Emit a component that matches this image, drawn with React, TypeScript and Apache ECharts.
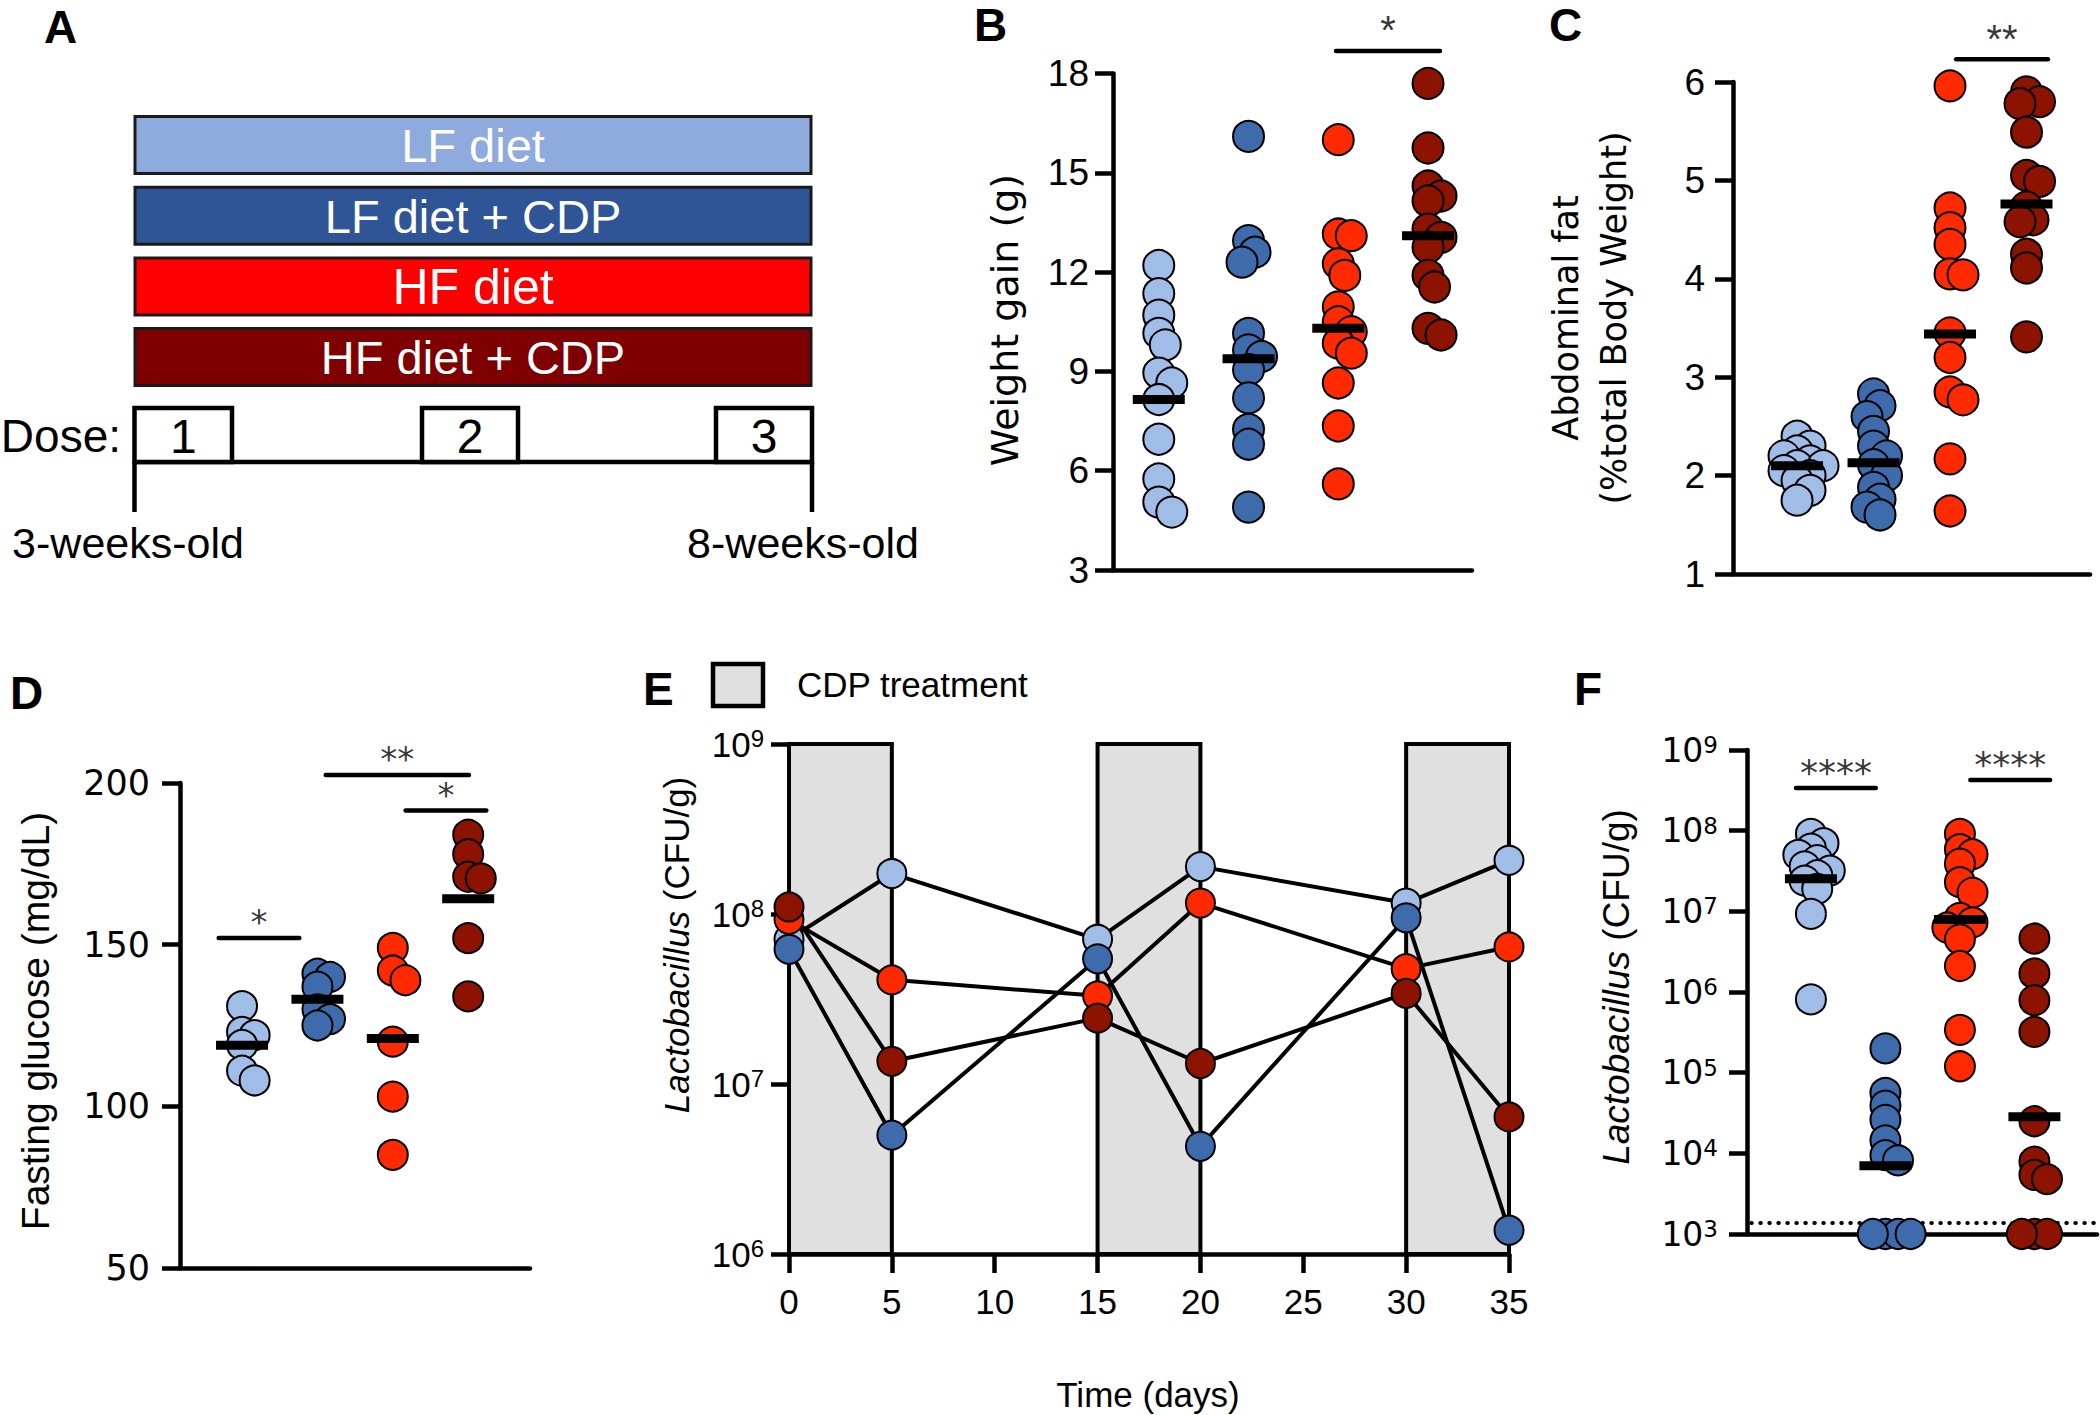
import React, { useEffect, useRef } from "react";
import * as echarts from "echarts";

// ---------------- data ----------------
const groupLabels = ["LF diet", "LF diet + CDP", "HF diet", "HF diet + CDP"];
const doseLabels = ["1", "2", "3"];
const ageLabels = ["3-weeks-old", "8-weeks-old"];

// B: weight gain (g)
const weightGain = [
  [12.2, 11.35, 10.7, 10.15, 9.8, 8.95, 8.65, 8.15, 6.95, 5.75, 5.05, 4.75],
  [16.1, 12.95, 12.6, 12.3, 10.15, 9.65, 9.45, 9.05, 8.2, 7.25, 6.8, 4.9],
  [16.0, 13.15, 13.1, 12.25, 11.9, 10.95, 10.5, 10.2, 9.85, 9.55, 8.65, 7.35, 5.6],
  [17.7, 15.75, 14.6, 14.3, 14.15, 13.3, 13.05, 12.75, 11.9, 11.55, 10.3, 10.1],
];
const weightGainMedian = [8.15, 9.38, 10.3, 13.1];
const weightGainSig = [{ from: 2.975, to: 4.133, y: 18.68, label: "*" }];

// C: abdominal fat (% total body weight)
const abdominalFat = [
  [2.4, 2.3, 2.25, 2.2, 2.15, 2.1, 2.1, 2.05, 2.0, 1.95, 1.85, 1.75],
  [2.83, 2.71, 2.6, 2.45, 2.3, 2.2, 2.11, 2.0, 1.88, 1.76, 1.68, 1.6],
  [5.96, 4.72, 4.52, 4.35, 4.05, 4.04, 3.45, 3.2, 2.85, 2.77, 2.17, 1.64],
  [5.9, 5.8, 5.78, 5.49, 5.05, 4.99, 4.73, 4.6, 4.58, 4.25, 4.11, 3.41],
];
const abdominalFatMedian = [2.1, 2.13, 3.44, 4.76];
const abdominalFatSig = [{ from: 3.08, to: 4.28, y: 6.23, label: "**" }];

// D: fasting glucose (mg/dL)
const glucose = [
  [131, 123, 122, 119, 111, 108],
  [141, 140, 137, 130, 127, 125],
  [149, 142, 139, 120, 103, 85],
  [184, 178, 171, 170.5, 152, 134],
];
const glucoseMedian = [118.9, 133.1, 121, 164.2];
const glucoseSig = [
  { from: 0.69, to: 1.76, y: 152.1, label: "*" },
  { from: 2.11, to: 4.01, y: 202.5, label: "**" },
  { from: 3.17, to: 4.24, y: 191.5, label: "*" },
];

// E: Lactobacillus over time
const days = [0, 5, 15, 20, 30, 35];
const lactoTime = [
  [7.1e7, 1.73e8, 7.1e7, 1.9e8, 1.16e8, 2.07e8],
  [6.2e7, 5.0e6, 5.45e7, 4.3e6, 9.5e7, 1.38e6],
  [9.3e7, 4.1e7, 3.3e7, 1.16e8, 4.77e7, 6.4e7],
  [1.1e8, 1.36e7, 2.44e7, 1.32e7, 3.41e7, 6.4e6],
];
const lactoTimeDrawOrder = [0, 2, 1, 3];
const treatmentPeriods = [
  [0, 5],
  [15, 20],
  [30, 35],
];
const legendLabel = "CDP treatment";

// F: Lactobacillus at end point
const lactoFinal = [
  [9.1e7, 7.0e7, 6.0e7, 5.0e7, 4.3e7, 3.6e7, 3.2e7, 2.8e7, 2.4e7, 1.9e7, 9.3e6, 8.1e5],
  [2.0e5, 5.6e4, 3.9e4, 2.6e4, 1.45e4, 9.5e3, 8.2e3, 1e3, 1e3, 1e3, 1e3],
  [9.1e7, 5.9e7, 5.1e7, 3.9e7, 2.3e7, 1.7e7, 8.3e6, 7.3e6, 6.3e6, 4.5e6, 2.1e6, 3.4e5, 1.2e5],
  [4.6e6, 1.7e6, 7.9e5, 3.2e5, 2.5e4, 7.9e3, 5.4e3, 4.8e3, 1e3, 1e3, 1e3],
];
const lactoFinalMedian = [2.54e7, 7.0e3, 7.9e6, 2.84e4];
const lactoFinalSig = [
  { from: 0.8, to: 1.87, y: 3.38e8, label: "****" },
  { from: 3.14, to: 4.21, y: 4.25e8, label: "****" },
];
const detectionLimit = 1.37e3;

// ---------------- styles ----------------
const pointColors = ["#9fbde6", "#3d6bab", "#ff2a00", "#8c1300"];
const barColors = ["#8faadc", "#2f5597", "#ff0000", "#7f0000"];
const SANS = '"Liberation Sans", Arial, sans-serif';
const WIDE = '"DejaVu Sans", Verdana, sans-serif';
const AXW = 4.5;

type Sig = { from: number; to: number; y: number; label: string };
type PanelCfg = {
  left: number;
  top: number;
  width: number;
  height: number;
  xMin: number;
  xMax: number;
  yMin: number;
  yMax: number;
  interval?: number;
  log?: boolean;
  tickFont: string;
  tickSize: number;
  supSize?: number;
  labelMargin: number;
  symbol: number;
  starFont: string;
  starSize: number;
  starDist: number;
};

function swarmOffsets(vals: number[], pxPerY: number, pxPerX: number, diam: number): number[] {
  const order = vals.map((_, i) => i).sort((a, b) => vals[b] - vals[a]);
  const placed: { x: number; y: number }[] = [];
  const out = new Array(vals.length).fill(0);
  const minDist = diam * 0.42;
  const step = diam * 0.21;
  for (const i of order) {
    const y = vals[i] * pxPerY;
    let chosen = 0;
    for (let k = 0; k < 80; k++) {
      const c = k === 0 ? 0 : (k % 2 === 1 ? 1 : -1) * Math.ceil(k / 2) * step;
      if (placed.every((p) => Math.hypot(p.x - c, p.y - y) >= minDist)) {
        chosen = c;
        break;
      }
    }
    placed.push({ x: chosen, y });
    out[i] = chosen / pxPerX;
  }
  return out;
}

function logLabel(cfg: PanelCfg) {
  return {
    formatter: (v: number) => `{b|10}{s|${Math.round(Math.log10(v))}}`,
    margin: cfg.labelMargin,
    rich: {
      b: { fontSize: cfg.tickSize, fontFamily: cfg.tickFont, color: "#000" },
      s: { fontSize: cfg.supSize, fontFamily: cfg.tickFont, color: "#000", verticalAlign: "top" },
    },
  };
}

function dotPanel(
  idx: number,
  cfg: PanelCfg,
  groups: number[][],
  medians: number[],
  sigs: Sig[],
  extraSeries: any[] = []
) {
  const grid = { left: cfg.left, top: cfg.top, width: cfg.width, height: cfg.height, containLabel: false };
  const xAxis = {
    gridIndex: idx,
    type: "value",
    min: cfg.xMin,
    max: cfg.xMax,
    axisLine: { show: true, onZero: false, lineStyle: { color: "#000", width: AXW } },
    axisTick: { show: false },
    axisLabel: { show: false },
    splitLine: { show: false },
  };
  const yAxis: any = {
    gridIndex: idx,
    type: cfg.log ? "log" : "value",
    min: cfg.yMin,
    max: cfg.yMax,
    axisLine: { show: true, onZero: false, lineStyle: { color: "#000", width: AXW } },
    axisTick: { show: true, length: 18, lineStyle: { color: "#000", width: AXW } },
    splitLine: { show: false },
    axisLabel: cfg.log
      ? logLabel(cfg)
      : { fontSize: cfg.tickSize, fontFamily: cfg.tickFont, color: "#000", margin: cfg.labelMargin },
  };
  if (cfg.log) {
    yAxis.logBase = 10;
    yAxis.splitNumber = 6;
  } else {
    yAxis.interval = cfg.interval;
  }
  const t = (v: number) => (cfg.log ? Math.log10(v) : v);
  const pxPerY = cfg.height / (t(cfg.yMax) - t(cfg.yMin));
  const pxPerX = cfg.width / (cfg.xMax - cfg.xMin);
  const series: any[] = [...extraSeries];
  groups.forEach((vals, g) => {
    const offs = swarmOffsets(vals.map(t), pxPerY, pxPerX, cfg.symbol);
    series.push({
      type: "scatter",
      xAxisIndex: idx,
      yAxisIndex: idx,
      clip: false,
      symbol: "circle",
      symbolSize: cfg.symbol,
      z: 3,
      itemStyle: { color: pointColors[g], borderColor: "#000", borderWidth: 2, opacity: 1 },
      data: vals.map((v, i) => [g + 1 + offs[i], v]),
    });
  });
  series.push({
    type: "scatter",
    xAxisIndex: idx,
    yAxisIndex: idx,
    clip: false,
    symbol: "rect",
    symbolSize: [52, 9],
    z: 5,
    itemStyle: { color: "#000", opacity: 1 },
    data: medians.map((m, i) => [i + 1, m]),
  });
  sigs.forEach((s) => {
    series.push({
      type: "line",
      xAxisIndex: idx,
      yAxisIndex: idx,
      clip: false,
      symbol: "none",
      z: 5,
      lineStyle: { color: "#000", width: AXW, cap: "round" },
      data: [
        [s.from, s.y],
        [s.to, s.y],
      ],
    });
    series.push({
      type: "scatter",
      xAxisIndex: idx,
      yAxisIndex: idx,
      clip: false,
      symbolSize: 1,
      z: 5,
      itemStyle: { color: "rgba(0,0,0,0)" },
      label: {
        show: true,
        position: "top",
        distance: cfg.starDist,
        formatter: s.label,
        fontSize: cfg.starSize,
        fontFamily: cfg.starFont,
        color: "#000",
      },
      data: [[(s.from + s.to) / 2, s.y]],
    });
  });
  return { grid, xAxis, yAxis, series };
}

function buildOption() {
  const grids: any[] = [];
  const xAxes: any[] = [];
  const yAxes: any[] = [];
  const series: any[] = [];
  const add = (p: any) => {
    grids.push(p.grid);
    xAxes.push(p.xAxis);
    yAxes.push(p.yAxis);
    series.push(...p.series);
  };

  // B
  add(
    dotPanel(
      0,
      {
        left: 1113, top: 73.5, width: 359, height: 496.5,
        xMin: 0.49, xMax: 4.49, yMin: 3, yMax: 18, interval: 3,
        tickFont: SANS, tickSize: 37, labelMargin: 24, symbol: 31,
        starFont: SANS, starSize: 40, starDist: 0,
      },
      weightGain, weightGainMedian, weightGainSig
    )
  );
  // C
  add(
    dotPanel(
      1,
      {
        left: 1733, top: 82, width: 357, height: 492,
        xMin: 0.163, xMax: 4.83, yMin: 1, yMax: 6, interval: 1,
        tickFont: SANS, tickSize: 37, labelMargin: 28, symbol: 31,
        starFont: SANS, starSize: 40, starDist: 0,
      },
      abdominalFat, abdominalFatMedian, abdominalFatSig
    )
  );
  // D
  add(
    dotPanel(
      2,
      {
        left: 180, top: 783, width: 350, height: 485,
        xMin: 0.177, xMax: 4.82, yMin: 50, yMax: 200, interval: 50,
        tickFont: WIDE, tickSize: 35, labelMargin: 30, symbol: 30,
        starFont: WIDE, starSize: 34, starDist: -2,
      },
      glucose, glucoseMedian, glucoseSig
    )
  );
  // F
  const lodSeries = {
    type: "line",
    xAxisIndex: 3,
    yAxisIndex: 3,
    clip: false,
    symbol: "none",
    z: 2,
    lineStyle: { color: "#000", width: 4, type: [0.5, 8.5], cap: "round" },
    data: [
      [0.2, detectionLimit],
      [4.84, detectionLimit],
    ],
  };
  add(
    dotPanel(
      3,
      {
        left: 1747, top: 750, width: 350, height: 484,
        xMin: 0.142, xMax: 4.84, yMin: 1e3, yMax: 1e9, log: true,
        tickFont: WIDE, tickSize: 33, supSize: 23, labelMargin: 29, symbol: 30,
        starFont: WIDE, starSize: 36, starDist: -3,
      },
      lactoFinal, lactoFinalMedian, lactoFinalSig, [lodSeries]
    )
  );

  // E (time course)
  const eCfg: PanelCfg = {
    left: 789, top: 744, width: 720, height: 510,
    xMin: 0, xMax: 35, yMin: 1e6, yMax: 1e9, log: true,
    tickFont: SANS, tickSize: 35, supSize: 24, labelMargin: 25, symbol: 28,
    starFont: SANS, starSize: 30, starDist: 0,
  };
  grids.push({ left: eCfg.left, top: eCfg.top, width: eCfg.width, height: eCfg.height, containLabel: false });
  xAxes.push({
    gridIndex: 4,
    type: "value",
    min: 0,
    max: 35,
    interval: 5,
    axisLine: { show: true, onZero: false, lineStyle: { color: "#000", width: AXW } },
    axisTick: { show: true, length: 19, lineStyle: { color: "#000", width: AXW } },
    axisLabel: { fontSize: 35, fontFamily: SANS, color: "#000", margin: 30 },
    splitLine: { show: false },
  });
  yAxes.push({
    gridIndex: 4,
    type: "log",
    logBase: 10,
    min: 1e6,
    max: 1e9,
    splitNumber: 3,
    axisLine: { show: true, onZero: false, lineStyle: { color: "#000", width: AXW } },
    axisTick: { show: true, length: 18, lineStyle: { color: "#000", width: AXW } },
    splitLine: { show: false },
    axisLabel: logLabel(eCfg),
  });
  lactoTimeDrawOrder.forEach((g, k) => {
    const s: any = {
      type: "line",
      xAxisIndex: 4,
      yAxisIndex: 4,
      symbol: "circle",
      symbolSize: 29,
      z: 3,
      lineStyle: { color: "#000", width: 4 },
      itemStyle: { color: pointColors[g], borderColor: "#000", borderWidth: 2 },
      data: days.map((d, i) => [d, lactoTime[g][i]]),
    };
    if (k === 0) {
      s.markArea = {
        silent: true,
        itemStyle: { color: "#e0e0e0", borderColor: "#000", borderWidth: 4 },
        data: treatmentPeriods.map(([a, b]) => [{ xAxis: a }, { xAxis: b }]),
      };
    }
    series.push(s);
  });

  // ---------- graphics ----------
  const g: any[] = [];
  const letter = (t: string, x: number, y: number) =>
    g.push({
      type: "text",
      x,
      y,
      style: { text: t, fontSize: 46, fontWeight: "bold", fontFamily: SANS, fill: "#000", align: "left", verticalAlign: "middle" },
    });
  letter("A", 44, 27);
  letter("B", 974, 25);
  letter("C", 1549, 25);
  letter("D", 10, 693);
  letter("E", 643, 689);
  letter("F", 1574, 689);

  // Panel A
  const aLeft = 135;
  const aRight = 811;
  groupLabels.forEach((lab, i) => {
    const top = 116.5 + i * 70.7;
    g.push({
      type: "rect",
      shape: { x: aLeft, y: top, width: aRight - aLeft, height: 57 },
      style: { fill: barColors[i], stroke: "#1a1a1a", lineWidth: 3 },
    });
    g.push({
      type: "text",
      x: (aLeft + aRight) / 2,
      y: top + 29,
      style: {
        text: lab,
        fontSize: i === 2 ? 50 : 47,
        fontFamily: SANS,
        fill: "#fff",
        align: "center",
        verticalAlign: "middle",
      },
    });
  });
  const boxes = [
    [134.5, 232],
    [422, 518],
    [716, 812],
  ];
  g.push({
    type: "line",
    shape: { x1: 134.5, y1: 462, x2: 812, y2: 462 },
    style: { stroke: "#000", lineWidth: 4.5 },
  });
  g.push({ type: "line", shape: { x1: 134.5, y1: 462, x2: 134.5, y2: 512 }, style: { stroke: "#000", lineWidth: 4.5 } });
  g.push({ type: "line", shape: { x1: 812, y1: 462, x2: 812, y2: 512 }, style: { stroke: "#000", lineWidth: 4.5 } });
  boxes.forEach(([x1, x2], i) => {
    g.push({
      type: "rect",
      shape: { x: x1, y: 408, width: x2 - x1, height: 54 },
      style: { fill: "#fff", stroke: "#000", lineWidth: 4.5 },
    });
    g.push({
      type: "text",
      x: (x1 + x2) / 2,
      y: 436,
      style: { text: doseLabels[i], fontSize: 48, fontFamily: SANS, fill: "#000", align: "center", verticalAlign: "middle" },
    });
  });
  g.push({
    type: "text",
    x: 121,
    y: 436,
    style: { text: "Dose:", fontSize: 46, fontFamily: SANS, fill: "#000", align: "right", verticalAlign: "middle" },
  });
  g.push({
    type: "text",
    x: 128,
    y: 543,
    style: { text: ageLabels[0], fontSize: 43, fontFamily: SANS, fill: "#000", align: "center", verticalAlign: "middle" },
  });
  g.push({
    type: "text",
    x: 803,
    y: 543,
    style: { text: ageLabels[1], fontSize: 43, fontFamily: SANS, fill: "#000", align: "center", verticalAlign: "middle" },
  });

  // axis titles
  const vtitle = (text: string, x: number, y: number, size: number, font: string, rich?: any) =>
    g.push({
      type: "text",
      x,
      y,
      rotation: Math.PI / 2,
      style: { text, fontSize: size, fontFamily: font, fill: "#000", align: "center", verticalAlign: "middle", rich },
    });
  vtitle("Weight gain (g)", 1005, 320, 38, WIDE);
  vtitle("Abdominal fat", 1566, 318, 35, WIDE);
  vtitle("(%total Body Weight)", 1614, 318, 35, WIDE);
  vtitle("Fasting glucose (mg/dL)", 35, 1021, 39, SANS);
  const lactoRich = (size: number) => ({
    i: { fontStyle: "italic", fontSize: size, fontFamily: SANS, fill: "#000" },
    n: { fontSize: size, fontFamily: SANS, fill: "#000" },
  });
  vtitle("{i|Lactobacillus}{n| (CFU/g)}", 676, 945, 35, SANS, lactoRich(35));
  vtitle("{i|Lactobacillus}{n| (CFU/g)}", 1616, 987, 37, SANS, lactoRich(37));
  g.push({
    type: "text",
    x: 1148,
    y: 1394,
    style: { text: "Time (days)", fontSize: 35, fontFamily: SANS, fill: "#000", align: "center", verticalAlign: "middle" },
  });
  // legend E
  g.push({
    type: "rect",
    shape: { x: 713, y: 664, width: 50, height: 42 },
    style: { fill: "#e0e0e0", stroke: "#000", lineWidth: 4.5 },
  });
  g.push({
    type: "text",
    x: 797,
    y: 684,
    style: { text: legendLabel, fontSize: 35, fontFamily: SANS, fill: "#000", align: "left", verticalAlign: "middle" },
  });

  return {
    animation: false,
    backgroundColor: "#fff",
    grid: grids,
    xAxis: xAxes,
    yAxis: yAxes,
    series,
    graphic: g,
  };
}

export default function App() {
  const ref = useRef<HTMLDivElement>(null);
  useEffect(() => {
    document.body.style.margin = "0";
    const chart = echarts.init(ref.current!, null, { renderer: "svg" });
    chart.setOption(buildOption() as any);
    return () => chart.dispose();
  }, []);
  return <div ref={ref} style={{ width: 2100, height: 1415 }} />;
}
